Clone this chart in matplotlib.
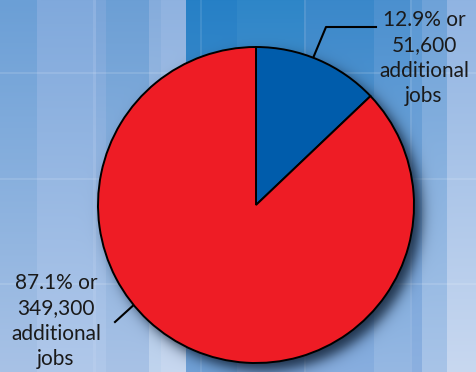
import numpy as np
import matplotlib
matplotlib.use("Agg")
import matplotlib.pyplot as plt
from matplotlib.lines import Line2D
from matplotlib.colors import to_rgb

# ---- data ----
categories = ["Other", "Additional"]
shares = [12.9, 87.1]            # percent
jobs = [51600, 349300]
labels = ["12.9% or\n51,600\nadditional\njobs", "87.1% or\n349,300\nadditional\njobs"]
colors = ["#005cab", "#ee1c25"]

W, H = 477, 372
fig = plt.figure(figsize=(W / 100, H / 100), dpi=100)

# ---- decorative striped background ----
bands = [  # x0, x1, top colour, bottom colour
    (0, 37, "#6b9fd6", "#a8c2e6"),
    (37, 93, "#80a9dc", "#b0c8ea"),
    (93, 96, "#8db1e0", "#b6ccec"),
    (96, 106, "#7aa5d9", "#b0c8ea"),
    (106, 149, "#6c9fd5", "#a8c2e6"),
    (149, 161, "#85acdc", "#c0d4ee"),
    (161, 186, "#8fb2e0", "#c8d8f0"),
    (186, 237, "#2680c6", "#72a2d8"),
    (237, 304, "#2e86c8", "#80a8dc"),
    (304, 306, "#4f94cf", "#94b6e2"),
    (306, 374, "#3a88ca", "#88aedf"),
    (374, 410, "#4b90cf", "#96b8e3"),
    (410, 422, "#5a98d3", "#8cb0e0"),
    (422, 447, "#6ea2d8", "#a8c4e8"),
    (447, 477, "#90b4e2", "#c8d8f0"),
]
img = np.zeros((H, W, 3))
t = (np.arange(H) / (H - 1))[:, None]
for x0, x1, c0, c1 in bands:
    a = np.array(to_rgb(c0)); b = np.array(to_rgb(c1))
    img[:, x0:x1, :] = (a[None, :] * (1 - t) + b[None, :] * t)[:, None, :]
# faint grid lines
for yy in (72, 178, 283):
    img[yy:yy + 2, :, :] = img[yy:yy + 2, :, :] * 0.88 + 0.12
for xx in (200, 410):
    img[:, xx:xx + 2, :] = img[:, xx:xx + 2, :] * 0.9 + 0.1
# drop shadow of the pie
cx, cy, R = 256, 205, 158
yy, xx = np.mgrid[0:H, 0:W]
d = np.hypot(xx - (cx + 7), yy - (cy + 7)) - R
alpha = 0.85 / (1 + np.exp(d / 4.0))
dark = np.array(to_rgb("#0b1a2e"))
img = img * (1 - alpha[..., None]) + dark * alpha[..., None]

bg = fig.add_axes([0, 0, 1, 1])
bg.imshow(img, aspect="auto", extent=(0, W, H, 0), interpolation="bilinear")
bg.set_xlim(0, W); bg.set_ylim(H, 0)
bg.axis("off")

# ---- pie ----
ax = fig.add_axes([(cx - R) / W, (H - cy - R) / H, 2 * R / W, 2 * R / H])
ax.pie(shares, colors=colors, startangle=90, counterclock=False, radius=1,
       wedgeprops=dict(edgecolor="black", linewidth=1.4))
ax.set_xlim(-1, 1); ax.set_ylim(-1, 1)
ax.set_aspect("auto")
ax.axis("off")

# ---- leader lines & labels (pixel coords on background axes) ----
bg.add_line(Line2D([296, 326, 376], [99, 27, 27], color="black", lw=1.5))
bg.add_line(Line2D([192, 115], [252, 322], color="black", lw=1.5))
font = dict(family=["Lato", "DejaVu Sans"], fontsize=15, color="#1a1a1a",
            ha="center", va="center", linespacing=1.34)
bg.text(424, 58, labels[0], **font)
bg.text(56, 321, labels[1], **font)

fig.savefig("out.png", dpi=100)
